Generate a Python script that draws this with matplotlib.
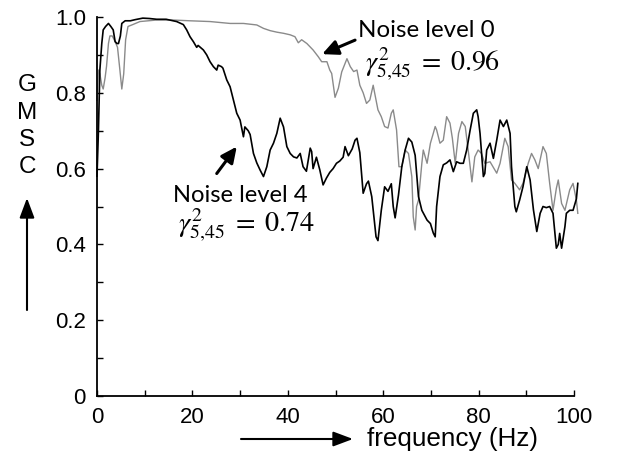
import matplotlib
matplotlib.use("Agg")
import matplotlib.pyplot as plt
from matplotlib.ticker import FixedLocator, FixedFormatter

# ---------------- data ----------------
freq_n0 = [0, 0.3, 0.6, 1.0, 1.3, 1.7, 2.0, 2.4, 2.7, 3.2, 3.8, 4.3, 4.8, 5.2, 5.6, 6.0, 6.5, 7.5,
           9.0, 12.5, 16, 19.5, 23.7, 27.9, 30.7, 33.5, 34.9, 36.3, 37.7, 39.1, 40.5, 41.5, 42.2,
           42.9, 44.0, 45.3, 46.4, 47.1, 48.2, 48.8, 49.2, 49.9, 50.6, 51.3, 52.4, 53.1, 53.8, 54.5,
           55.1, 55.8, 56.5, 57.2, 57.9, 58.2, 58.9, 59.6, 60.3, 61.0, 61.7, 62.1, 62.8, 63.3, 63.9,
           64.6, 65.3, 66.0, 66.3, 66.7, 67.0, 67.4, 68.1, 68.4, 69.2, 69.9, 70.5, 70.9, 71.2, 71.9,
           72.6, 73.3, 74.0, 74.5, 75.1, 75.8, 76.5, 77.2, 77.9, 78.6, 79.2, 79.9, 80.6, 81.3, 82.4,
           83.8, 84.5, 85.5, 86.2, 86.9, 87.6, 88.6, 89.3, 90.4, 91.1, 91.8, 92.5, 93.5, 94.2, 94.9,
           95.6, 96.3, 96.7, 97.4, 98.1, 99.1, 99.8, 100.5, 100.8]
gmsc_n0 = [0.78, 0.86, 0.85, 0.82, 0.81, 0.84, 0.87, 0.93, 0.95, 0.95, 0.935, 0.92, 0.86, 0.81, 0.85,
           0.94, 0.975, 0.98, 0.988, 0.992, 0.992, 0.99, 0.988, 0.983, 0.983, 0.979, 0.97, 0.964,
           0.96, 0.957, 0.953, 0.948, 0.932, 0.94, 0.93, 0.913, 0.895, 0.882, 0.882, 0.86, 0.851,
           0.788, 0.812, 0.855, 0.89, 0.869, 0.856, 0.86, 0.82, 0.80, 0.772, 0.781, 0.82, 0.80,
           0.755, 0.737, 0.711, 0.707, 0.746, 0.755, 0.702, 0.605, 0.605, 0.649, 0.64, 0.579,
           0.473, 0.438, 0.50, 0.517, 0.614, 0.649, 0.614, 0.667, 0.693, 0.711, 0.702, 0.667,
           0.675, 0.737, 0.72, 0.68, 0.614, 0.693, 0.724, 0.711, 0.64, 0.565, 0.631, 0.649, 0.64,
           0.614, 0.618, 0.588, 0.614, 0.68, 0.658, 0.57, 0.561, 0.544, 0.561, 0.614, 0.64, 0.623,
           0.60, 0.658, 0.64, 0.561, 0.49, 0.548, 0.57, 0.508, 0.49, 0.544, 0.561, 0.517, 0.482]

freq_n4 = [0, 0.3, 0.6, 1.0, 1.3, 1.8, 2.4, 2.9, 3.4, 3.8, 4.2, 4.5, 4.9, 5.2, 5.9, 7.0, 8.0, 9.6,
           11, 12.5, 14.5, 16.7, 18.1, 18.8, 19.5, 20.2, 20.9, 21.2, 22.3, 23.0, 23.7, 24.4, 25.1,
           25.4, 26.1, 26.4, 27.2, 27.9, 28.6, 29.3, 30.0, 30.7, 31.0, 31.7, 32.1, 32.8, 33.5, 34.2,
           34.9, 35.6, 36.3, 37.0, 37.7, 38.4, 39.1, 39.8, 40.5, 41.2, 41.9, 42.6, 43.2, 43.9, 44.7,
           45.0, 45.3, 46.0, 46.7, 47.4, 48.1, 48.8, 49.5, 50.2, 50.9, 51.6, 52.0, 52.7, 53.5, 54.1,
           54.5, 55.1, 55.8, 56.5, 56.9, 57.6, 58.5, 58.9, 59.6, 60.3, 61.0, 61.7, 62.1, 62.5, 63.2,
           63.9, 64.6, 65.3, 66.0, 66.7, 67.4, 68.1, 69.2, 69.9, 70.5, 70.9, 71.2, 71.9, 72.6, 73.3,
           74.0, 74.7, 75.4, 76.1, 76.8, 77.5, 78.2, 78.9, 79.6, 79.9, 80.3, 81.0, 81.3, 81.7, 82.4,
           83.1, 83.8, 84.5, 85.2, 85.9, 86.6, 86.9, 87.6, 87.9, 88.6, 89.3, 90.1, 90.8, 91.5, 92.2,
           92.9, 93.5, 94.2, 94.9, 95.6, 96.3, 96.7, 97.0, 97.4, 98.1, 98.4, 99.1, 99.8, 100.5, 100.8]
gmsc_n4 = [0.58, 0.70, 0.86, 0.93, 0.966, 0.975, 0.983, 0.975, 0.966, 0.935, 0.93, 0.93, 0.95, 0.983,
           0.99, 0.99, 0.993, 0.997, 0.996, 0.994, 0.994, 0.988, 0.98, 0.966, 0.948, 0.935, 0.92,
           0.925, 0.913, 0.90, 0.882, 0.869, 0.86, 0.873, 0.869, 0.865, 0.834, 0.816, 0.781, 0.746,
           0.728, 0.684, 0.71, 0.70, 0.69, 0.64, 0.615, 0.596, 0.579, 0.605, 0.649, 0.667, 0.693,
           0.733, 0.71, 0.658, 0.64, 0.631, 0.628, 0.64, 0.605, 0.593, 0.654, 0.645, 0.60, 0.63,
           0.597, 0.557, 0.575, 0.59, 0.60, 0.614, 0.62, 0.63, 0.658, 0.634, 0.652, 0.675, 0.68,
           0.642, 0.535, 0.56, 0.567, 0.526, 0.42, 0.41, 0.49, 0.552, 0.54, 0.56, 0.50, 0.47, 0.53,
           0.605, 0.649, 0.68, 0.67, 0.635, 0.526, 0.49, 0.464, 0.455, 0.43, 0.42, 0.50, 0.579, 0.61,
           0.615, 0.623, 0.592, 0.618, 0.614, 0.614, 0.649, 0.70, 0.746, 0.755, 0.737, 0.693, 0.579,
           0.587, 0.649, 0.667, 0.627, 0.675, 0.728, 0.711, 0.728, 0.693, 0.605, 0.50, 0.486, 0.517,
           0.552, 0.605, 0.57, 0.491, 0.434, 0.482, 0.50, 0.497, 0.50, 0.482, 0.39, 0.40, 0.429,
           0.39, 0.447, 0.482, 0.49, 0.49, 0.52, 0.561]

x_ticks = [0, 10, 20, 30, 40, 50, 60, 70, 80, 90, 100]
x_labels = ["0", "", "20", "", "40", "", "60", "", "80", "", "100"]
y_ticks = [0, 0.1, 0.2, 0.3, 0.4, 0.5, 0.6, 0.7, 0.8, 0.9, 1.0]
y_labels = ["0", "", "0.2", "", "0.4", "", "0.6", "", "0.8", "", "1.0"]

label_n0 = "Noise level 0"
gamma_n0 = r"$\gamma^2_{5{,}45}\;=\;0.96$"
label_n4 = "Noise level 4"
gamma_n4 = r"$\gamma^2_{5{,}45}\;=\;0.74$"

# ---------------- figure ----------------
plt.rcParams["mathtext.fontset"] = "stix"
W, H = 618, 458
fig = plt.figure(figsize=(W / 100, H / 100), dpi=100)
ax = fig.add_axes([97 / W, 1 - 396 / H, (574 - 97) / W, (396 - 17) / H])

ax.plot(freq_n0, gmsc_n0, color="#8a8a8a", lw=1.0, clip_on=False, zorder=2)
ax.plot(freq_n4, gmsc_n4, color="black", lw=1.2, clip_on=False, zorder=3)

ax.set_xlim(0, 100)
ax.set_ylim(0, 1.0)
for s in ["top", "right"]:
    ax.spines[s].set_visible(False)
for s in ["left", "bottom"]:
    ax.spines[s].set_linewidth(1.3)

ax.xaxis.set_major_locator(FixedLocator(x_ticks))
ax.xaxis.set_major_formatter(FixedFormatter(x_labels))
ax.yaxis.set_major_locator(FixedLocator(y_ticks))
ax.yaxis.set_major_formatter(FixedFormatter(y_labels))
ax.tick_params(direction="in", length=4, width=1.0, pad=8)
for lab in ax.get_xticklabels() + ax.get_yticklabels():
    lab.set_fontfamily("Liberation Sans")
    lab.set_fontsize(16)


def fitted_text(s, left, right, ypix, va="baseline", **kw):
    """Place text with its left edge at `left` px, font scaled so it ends at `right` px."""
    t = fig.text(left / W, 1 - ypix / H, s, ha="left", va=va, **kw)
    fig.canvas.draw()
    r = fig.canvas.get_renderer()
    bb = t.get_window_extent(renderer=r)
    t.set_fontsize(t.get_fontsize() * (right - left) / bb.width)
    fig.canvas.draw()
    bb = t.get_window_extent(renderer=r)
    t.set_x(t.get_position()[0] + (left - bb.x0) / W)
    return t


fitted_text(label_n0, 358, 495, 36.7, family="Lato", fontsize=16)
fitted_text(gamma_n0, 365, 500, 70.7, fontsize=19)
fitted_text(label_n4, 173.3, 308.3, 201.7, family="Lato", fontsize=16)
fitted_text(gamma_n4, 178, 315, 231.7, fontsize=19)

arrow_kw = dict(arrowstyle="-|>,head_length=0.95,head_width=0.45", lw=2.2, color="black",
                shrinkA=0, shrinkB=0, mutation_scale=10)
ax.annotate("", xy=(47.2, 0.902), xytext=(54.1, 0.939), arrowprops=arrow_kw)
ax.annotate("", xy=(29.3, 0.658), xytext=(25.1, 0.587), arrowprops=arrow_kw)

# axis "labels" with arrows
axis_arrow = dict(arrowstyle="-|>,head_length=1.2,head_width=0.45", lw=1.5, color="black",
                  shrinkA=0, shrinkB=0, mutation_scale=10)
fig.add_artist(matplotlib.patches.FancyArrowPatch((27, H - 310), (27, H - 198),
                                                  transform=None, **axis_arrow))
fig.add_artist(matplotlib.patches.FancyArrowPatch((241, H - 439), (353, H - 439),
                                                  transform=None, **axis_arrow))
for letter, yc in zip("GMSC", [85, 113, 140, 167]):
    fig.text(27 / W, 1 - yc / H, letter, ha="center", va="center",
             family="Liberation Sans", fontsize=17.5)
fitted_text("frequency (Hz)", 366.7, 538.3, 439, va="center",
            family="Liberation Sans", fontsize=17)

fig.savefig("out.png", dpi=100)
